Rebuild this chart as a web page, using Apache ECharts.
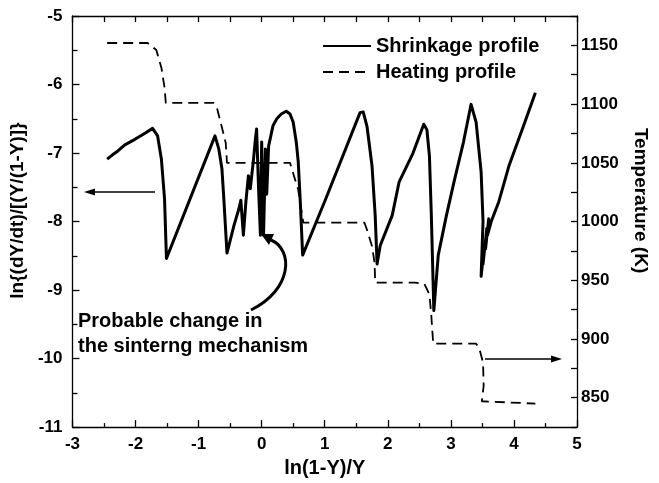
<!DOCTYPE html>
<html>
<head>
<meta charset="utf-8"/>
<title>Shrinkage and heating profile</title>
<script src="https://cdn.jsdelivr.net/npm/echarts@6/dist/echarts.min.js"></script>
<style>
    html, body { margin: 0; padding: 0; background: #fff; }
    #main { width: 659px; height: 483px; }
</style>
</head>
<body>
<div id="main"></div>
<script>
    // shrinkage profile: x = ln(1-Y)/Y, y = ln{(dY/dt)/[Y/(1-Y)]}
    var shrinkX = [-2.45, -2.37, -2.28, -2.17, -2.01, -1.85, -1.73, -1.65, -1.59, -1.54, -1.51,
        -0.74, -0.68, -0.63, -0.60, -0.55,
        -0.44, -0.36, -0.33, -0.29, -0.25, -0.21, -0.18, -0.13, -0.10, -0.08, -0.05, -0.02, 0.00,
        0.03, 0.05, 0.06, 0.08, 0.11, 0.18, 0.24, 0.31, 0.39, 0.45, 0.50, 0.55, 0.58, 0.61, 0.65,
        1.02, 1.56, 1.61, 1.67, 1.75, 1.80, 1.83,
        1.88, 2.07, 2.18, 2.40, 2.57, 2.62, 2.66, 2.69, 2.73,
        2.80, 2.93, 3.05, 3.20, 3.32, 3.40, 3.48, 3.51, 3.48,
        3.53, 3.51, 3.57, 3.55, 3.60, 3.58, 3.64, 3.76, 3.92, 4.15, 4.34];
    var shrinkY = [-7.09, -7.03, -6.97, -6.88, -6.80, -6.71, -6.64, -6.75, -7.09, -7.67, -8.54,
        -6.75, -6.94, -7.23, -7.67, -8.46,
        -8.06, -7.81, -7.69, -8.20, -7.71, -7.33, -7.52, -7.10, -6.80, -6.65, -7.50, -8.20, -6.84,
        -8.20, -7.40, -6.94, -7.60, -6.90, -6.60, -6.50, -6.43, -6.39, -6.43, -6.55, -6.85, -7.13, -7.67, -8.49,
        -7.66, -6.41, -6.40, -6.61, -7.19, -7.91, -8.62,
        -8.35, -7.91, -7.42, -7.00, -6.58, -6.66, -7.04, -7.90, -9.30,
        -8.49, -7.91, -7.42, -6.84, -6.29, -6.55, -7.28, -8.00, -8.80,
        -8.35, -8.62, -8.10, -8.40, -7.96, -8.20, -8.00, -7.71, -7.19, -6.61, -6.12];

    // heating profile: temperature (K)
    var heatX = [-2.45, -1.81, -1.67, -1.59, -1.54, -1.52, -0.76, -0.71, -0.63, -0.57, -0.55,
        0.45, 0.50, 0.58, 0.62, 0.66, 1.63, 1.67, 1.75, 1.79, 1.80, 2.43, 2.58, 2.66, 2.69, 2.72,
        3.40, 3.45, 3.51, 3.52, 3.49, 4.34];
    var heatT = [1152, 1152, 1146, 1131, 1114, 1101, 1101, 1097, 1080, 1067, 1050,
        1050, 1041, 1027, 1013, 999, 999, 993, 979, 965, 948, 948, 947, 938, 920, 896,
        896, 892, 880, 860, 847, 845];

    var seriesNames = ['Shrinkage profile', 'Heating profile'];
    var annotationLines = ['Probable change in', 'the sinterng mechanism'];

    var font = 'Arial, "Liberation Sans", sans-serif';
    var tickTxt = {color: '#000', fontFamily: font, fontWeight: 'bold', fontSize: 17};
    var bigTxt = {color: '#000', fontFamily: font, fontWeight: 'bold', fontSize: 20};
    var vertTxt = {color: '#000', fontFamily: font, fontWeight: 'bold', fontSize: 19};

    var chart = echarts.init(document.getElementById('main'), null, {renderer: 'canvas'});

    var shrinkData = shrinkX.map(function (x, i) { return [x, shrinkY[i]]; });
    var heatData = heatX.map(function (x, i) { return [x, heatT[i]]; });

    var lineAxis = {show: true, onZero: false, lineStyle: {color: '#000', width: 1.3}};
    var tickLine = {color: '#000', width: 1.3};

    var option = {
        animation: false,
        backgroundColor: '#fff',
        grid: {left: 67, top: 16, right: 82, bottom: 53},
        legend: {
            orient: 'vertical',
            left: 322,
            top: 36,
            padding: 0,
            itemWidth: 48,
            itemHeight: 20,
            itemGap: 6,
            itemStyle: {opacity: 0},
            textStyle: bigTxt,
            data: seriesNames
        },
        xAxis: [{
            type: 'value',
            min: -3, max: 5, interval: 1,
            name: 'ln(1-Y)/Y',
            nameLocation: 'middle',
            nameGap: 30,
            nameTextStyle: bigTxt,
            axisLine: lineAxis,
            axisTick: {inside: true, length: 7, lineStyle: tickLine},
            minorTick: {show: true, splitNumber: 2, length: 4, lineStyle: tickLine},
            axisLabel: Object.assign({margin: 9}, tickTxt),
            splitLine: {show: false}
        }, {
            type: 'value',
            position: 'top',
            min: -3, max: 5, interval: 1,
            axisLine: lineAxis,
            axisTick: {inside: true, length: 6, lineStyle: tickLine},
            minorTick: {show: true, splitNumber: 2, length: 6, lineStyle: tickLine},
            axisLabel: {show: false},
            splitLine: {show: false}
        }],
        yAxis: [{
            type: 'value',
            min: -11, max: -5, interval: 1,
            name: 'ln{(dY/dt)/[(Y/(1-Y)]}',
            nameLocation: 'middle',
            nameGap: 30,
            nameTextStyle: Object.assign({padding: [0, 0, 0, 22]}, vertTxt),
            axisLine: lineAxis,
            axisTick: {inside: true, length: 7, lineStyle: tickLine},
            minorTick: {show: true, splitNumber: 2, length: 5, lineStyle: tickLine},
            axisLabel: Object.assign({margin: 10}, tickTxt),
            splitLine: {show: false}
        }, {
            type: 'value',
            position: 'right',
            min: 825, max: 1175, interval: 25,
            name: 'Temperature (K)',
            nameLocation: 'middle',
            nameRotate: -90,
            nameGap: 54,
            nameTextStyle: Object.assign({padding: [0, 42, 0, 0]}, vertTxt),
            axisLine: lineAxis,
            axisTick: {inside: true, length: 6, lineStyle: tickLine},
            axisLabel: Object.assign({
                margin: 4,
                formatter: function (v) { return v % 50 === 0 ? v : ''; }
            }, tickTxt),
            splitLine: {show: false}
        }],
        series: [{
            name: seriesNames[0],
            type: 'line',
            xAxisIndex: 0,
            yAxisIndex: 0,
            symbol: 'none',
            data: shrinkData,
            lineStyle: {color: '#000', width: 3, join: 'round'},
            itemStyle: {color: '#000'}
        }, {
            name: seriesNames[1],
            type: 'line',
            xAxisIndex: 0,
            yAxisIndex: 1,
            symbol: 'none',
            data: heatData,
            lineStyle: {color: '#000', width: 1.8, type: [10, 6]},
            itemStyle: {color: '#000'}
        }],
        graphic: [
            {
                type: 'text',
                left: 78, top: 309,
                style: {
                    text: annotationLines.join('\n'),
                    fill: '#000',
                    font: 'bold 20px ' + font,
                    lineHeight: 25
                }
            },
            // left-pointing arrow to the left axis
            {type: 'line', shape: {x1: 155, y1: 192, x2: 92, y2: 192}, style: {stroke: '#000', lineWidth: 1.3}},
            {type: 'polygon', shape: {points: [[84, 192], [95, 188.5], [95, 195.5]]}, style: {fill: '#000'}},
            // right-pointing arrow to the right axis
            {type: 'line', shape: {x1: 485, y1: 359, x2: 554, y2: 359}, style: {stroke: '#000', lineWidth: 1.3}},
            {type: 'polygon', shape: {points: [[562, 359], [551, 355.5], [551, 362.5]]}, style: {fill: '#000'}},
            // curved arrow from annotation
            {
                type: 'bezierCurve',
                shape: {x1: 251, y1: 310, cpx1: 292, cpy1: 290, cpx2: 294, cpy2: 250, x2: 271, y2: 240},
                style: {stroke: '#000', lineWidth: 3, fill: null}
            },
            {type: 'polygon', shape: {points: [[261, 234], [274, 234], [269, 245]]}, style: {fill: '#000'}}
        ]
    };

    chart.setOption(option);
</script>
</body>
</html>
